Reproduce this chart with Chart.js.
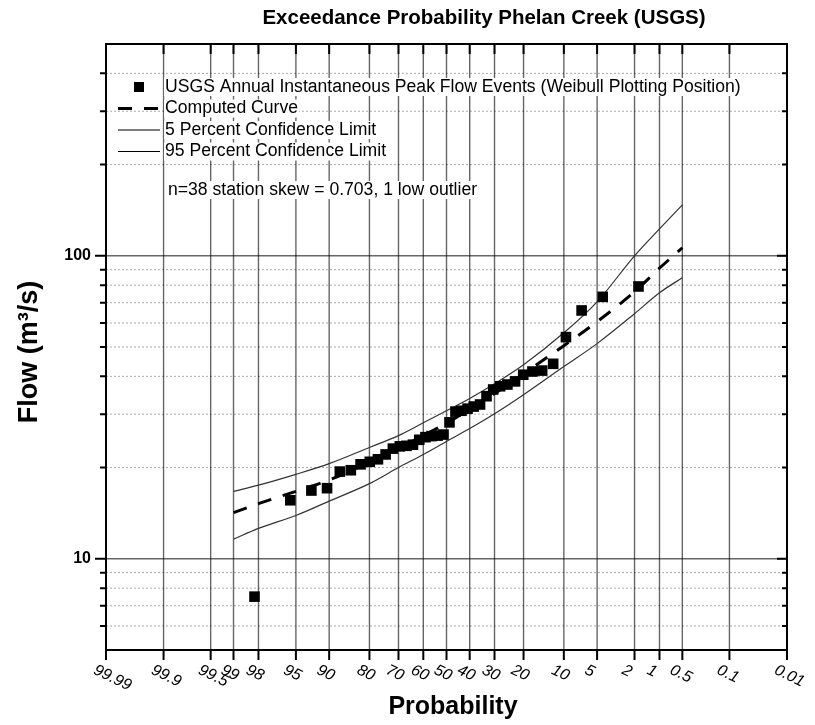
<!DOCTYPE html>
<html>
<head>
<meta charset="utf-8">
<title>Exceedance Probability Phelan Creek (USGS)</title>
<script src="https://cdn.jsdelivr.net/npm/chart.js@4.4.1/dist/chart.umd.min.js"></script>
<style>
  html, body { margin: 0; padding: 0; background: #fff; }
  canvas { display: block; }
</style>
</head>
<body>
<canvas id="freqChart" width="815" height="725"></canvas>
<script>
// exceedance probability ticks (percent), left to right
const probTicks = [99.99, 99.9, 99.5, 99, 98, 95, 90, 80, 70, 60, 50, 40, 30, 20, 10, 5, 2, 1, 0.5, 0.1, 0.01];
const probLabels = ['99.99', '99.9', '99.5', '99', '98', '95', '90', '80', '70', '60', '50', '40', '30', '20', '10', '5', '2', '1', '0.5', '0.1', '0.01'];

// flow gridlines (m3/s)
const flowMajor = [10, 100];
const flowMinor = [6, 7, 8, 9, 20, 30, 40, 50, 60, 70, 80, 90, 200, 300, 400];

// annual peak events: plotting position (%) and flow (m3/s)
const eventProb = [1.8, 4.4, 7.0, 9.6, 12.2, 14.8, 17.4, 20.1, 22.7, 25.3, 27.9, 30.5, 33.1, 35.7, 38.3, 40.9, 43.5, 46.1, 48.7,
                   51.3, 53.9, 56.5, 59.1, 61.7, 64.3, 66.9, 69.5, 72.1, 74.7, 77.3, 79.9, 82.6, 85.2, 87.8, 90.4, 93.0, 95.6, 98.2];
const eventFlow = [79.2, 73.2, 66.0, 53.9, 44.0, 41.8, 41.5, 40.5, 38.5, 37.6, 37.1, 36.2, 34.4, 32.3, 31.8, 31.3, 30.8, 30.6, 28.2,
                   25.7, 25.5, 25.4, 25.2, 24.7, 23.8, 23.6, 23.5, 23.1, 22.1, 21.3, 20.9, 20.5, 19.6, 19.4, 17.1, 16.8, 15.6, 7.5];

// frequency curve and confidence limits
const curveProb = [99, 98, 95, 90, 80, 70, 60, 50, 40, 30, 20, 10, 5, 2, 1, 0.5];
const computedFlow = [14.2, 15.2, 16.7, 18.2, 20.8, 23.2, 25.5, 28.0, 31.2, 35.1, 40.8, 50.5, 60.6, 76.1, 91.0, 106.3];
const upperFlow = [16.7, 17.5, 19.0, 20.6, 23.3, 25.5, 28.1, 30.8, 33.8, 37.8, 43.7, 55.7, 70.5, 100.0, 122.7, 147.3];
const lowerFlow = [11.6, 12.6, 13.9, 15.5, 17.7, 20.0, 22.1, 24.4, 26.9, 30.1, 34.8, 43.1, 51.3, 64.4, 75.5, 84.6];

const noteText = 'n=38 station skew = 0.703, 1 low outlier';

// inverse standard normal CDF (Acklam)
function normInv(p) {
  const a = [-39.69683028665376, 220.9460984245205, -275.9285104469687, 138.3577518672690, -30.66479806614716, 2.506628277459239];
  const b = [-54.47609879822406, 161.5858368580409, -155.6989798598866, 66.80131188771972, -13.28068155288572];
  const c = [-0.007784894002430293, -0.3223964580411365, -2.400758277161838, -2.549732539343734, 4.374664141464968, 2.938163982698783];
  const d = [0.007784695709041462, 0.3224671290700398, 2.445134137142996, 3.754408661907416];
  const lo = 0.02425;
  let q, r;
  if (p < lo) {
    q = Math.sqrt(-2 * Math.log(p));
    return (((((c[0]*q+c[1])*q+c[2])*q+c[3])*q+c[4])*q+c[5]) / ((((d[0]*q+d[1])*q+d[2])*q+d[3])*q+1);
  }
  if (p > 1 - lo) {
    q = Math.sqrt(-2 * Math.log(1 - p));
    return -(((((c[0]*q+c[1])*q+c[2])*q+c[3])*q+c[4])*q+c[5]) / ((((d[0]*q+d[1])*q+d[2])*q+d[3])*q+1);
  }
  q = p - 0.5;
  r = q * q;
  return (((((a[0]*r+a[1])*r+a[2])*r+a[3])*r+a[4])*r+a[5])*q / (((((b[0]*r+b[1])*r+b[2])*r+b[3])*r+b[4])*r+1);
}

// exceedance percent -> normal probability axis value
function zOf(pct) {
  return normInv(1 - pct / 100);
}

function toXY(probs, flows) {
  return probs.map((p, i) => ({ x: zOf(p), y: flows[i] }));
}

const FONT = '"Liberation Sans", Arial, sans-serif';

// grid behind the data
const gridPlugin = {
  id: 'probGrid',
  beforeDatasetsDraw(chart) {
    const { ctx, chartArea: a, scales: { x, y } } = chart;
    ctx.save();
    ctx.lineWidth = 1;
    ctx.strokeStyle = '#aaa';
    ctx.setLineDash([2, 2]);
    flowMinor.forEach(v => {
      const py = y.getPixelForValue(v);
      ctx.beginPath();
      ctx.moveTo(a.left, py);
      ctx.lineTo(a.right, py);
      ctx.stroke();
    });
    ctx.setLineDash([]);
    ctx.strokeStyle = 'rgba(0,0,0,0.6)';
    ctx.lineWidth = 1.4;
    flowMajor.forEach(v => {
      const py = y.getPixelForValue(v);
      ctx.beginPath();
      ctx.moveTo(a.left, py);
      ctx.lineTo(a.right, py);
      ctx.stroke();
    });
    probTicks.forEach(p => {
      const px = x.getPixelForValue(zOf(p));
      ctx.beginPath();
      ctx.moveTo(px, a.top);
      ctx.lineTo(px, a.bottom);
      ctx.stroke();
    });
    ctx.restore();
  }
};

// frame, ticks, labels, legend
const framePlugin = {
  id: 'probFrame',
  afterDraw(chart) {
    const { ctx, chartArea: a, scales: { x, y } } = chart;
    ctx.save();
    ctx.strokeStyle = '#000';
    ctx.lineWidth = 2;
    ctx.strokeRect(a.left, a.top, a.right - a.left, a.bottom - a.top);

    // y ticks: outside on the left, inside on the right
    const yTick = (v, len) => {
      const py = y.getPixelForValue(v);
      ctx.beginPath();
      ctx.moveTo(a.left - len, py);
      ctx.lineTo(a.left, py);
      ctx.moveTo(a.right - len + 1, py);
      ctx.lineTo(a.right, py);
      ctx.stroke();
    };
    flowMajor.forEach(v => yTick(v, 11));
    flowMinor.forEach(v => yTick(v, 6));

    // x ticks: inside at the top, outside at the bottom
    probTicks.forEach(p => {
      const px = x.getPixelForValue(zOf(p));
      ctx.beginPath();
      ctx.moveTo(px, a.top);
      ctx.lineTo(px, a.top + 10);
      ctx.moveTo(px, a.bottom);
      ctx.lineTo(px, a.bottom + 10);
      ctx.stroke();
    });

    // y tick labels
    ctx.fillStyle = '#000';
    ctx.font = 'bold 16px ' + FONT;
    ctx.textAlign = 'right';
    ctx.textBaseline = 'middle';
    flowMajor.forEach(v => ctx.fillText(String(v), a.left - 15, y.getPixelForValue(v)));

    // x tick labels, slanted
    ctx.font = 'italic 16px ' + FONT;
    ctx.textAlign = 'left';
    ctx.textBaseline = 'top';
    probTicks.forEach((p, i) => {
      const px = x.getPixelForValue(zOf(p));
      ctx.save();
      ctx.translate(px - 8, a.bottom + 12);
      ctx.rotate(0.45);
      ctx.fillText(probLabels[i], 0, 0);
      ctx.restore();
    });

    // titles
    ctx.textAlign = 'center';
    ctx.textBaseline = 'middle';
    ctx.font = 'bold 20.5px ' + FONT;
    ctx.fillText('Exceedance Probability Phelan Creek (USGS)', 484, 18);
    ctx.font = 'bold 25px ' + FONT;
    ctx.fillText('Probability', 453, 707);
    ctx.font = 'bold 27px ' + FONT;
    ctx.save();
    ctx.translate(30, 352);
    ctx.rotate(-Math.PI / 2);
    ctx.fillText('Flow (m\u00b3/s)', 0, 0);
    ctx.restore();

    // legend inside the plot
    ctx.font = '17.6px ' + FONT;
    ctx.textAlign = 'left';
    const textRow = (txt, tx, ty) => {
      const w = ctx.measureText(txt).width;
      ctx.fillStyle = '#fff';
      ctx.fillRect(tx - 1, ty - 9, w + 2, 18);
      ctx.fillStyle = '#000';
      ctx.fillText(txt, tx, ty);
    };
    const rowY = [87, 108.5, 130, 151.5];
    const ds = chart.data.datasets;
    ds.forEach((d, i) => {
      const ry = rowY[i];
      if (i === 0) {
        ctx.fillStyle = '#000';
        ctx.fillRect(134, ry - 5, 10, 10);
      } else {
        ctx.strokeStyle = '#000';
        ctx.lineWidth = d.borderWidth;
        ctx.setLineDash(d.borderDash || []);
        ctx.beginPath();
        ctx.moveTo(118, ry);
        ctx.lineTo(160, ry);
        ctx.stroke();
        ctx.setLineDash([]);
      }
      textRow(d.label, 165, ry);
    });
    textRow(noteText, 168, 190);
    ctx.restore();
  }
};

const ctx = document.getElementById('freqChart').getContext('2d');
const freqChart = new Chart(ctx, {
  type: 'scatter',
  data: {
    datasets: [
      {
        label: 'USGS Annual Instantaneous Peak Flow Events (Weibull Plotting Position)',
        data: toXY(eventProb, eventFlow),
        pointStyle: 'rect',
        pointRadius: 7.5,
        backgroundColor: '#000',
        borderColor: '#000',
        borderWidth: 0
      },
      {
        label: 'Computed Curve',
        data: toXY(curveProb, computedFlow),
        showLine: true,
        borderColor: '#000',
        borderWidth: 3,
        borderDash: [14, 12],
        cubicInterpolationMode: 'monotone',
        pointRadius: 0
      },
      {
        label: '5 Percent Confidence Limit',
        data: toXY(curveProb, upperFlow),
        showLine: true,
        borderColor: '#333',
        borderWidth: 1.2,
        cubicInterpolationMode: 'monotone',
        pointRadius: 0
      },
      {
        label: '95 Percent Confidence Limit',
        data: toXY(curveProb, lowerFlow),
        showLine: true,
        borderColor: '#333',
        borderWidth: 1.2,
        cubicInterpolationMode: 'monotone',
        pointRadius: 0
      }
    ]
  },
  options: {
    responsive: false,
    animation: false,
    layout: { padding: { left: 106, right: 28, top: 44, bottom: 75 } },
    plugins: {
      legend: { display: false },
      tooltip: { enabled: false }
    },
    scales: {
      x: {
        type: 'linear',
        display: false,
        min: zOf(99.99),
        max: zOf(0.01)
      },
      y: {
        type: 'logarithmic',
        display: false,
        min: 5,
        max: 500
      }
    }
  },
  plugins: [gridPlugin, framePlugin]
});
</script>
</body>
</html>
